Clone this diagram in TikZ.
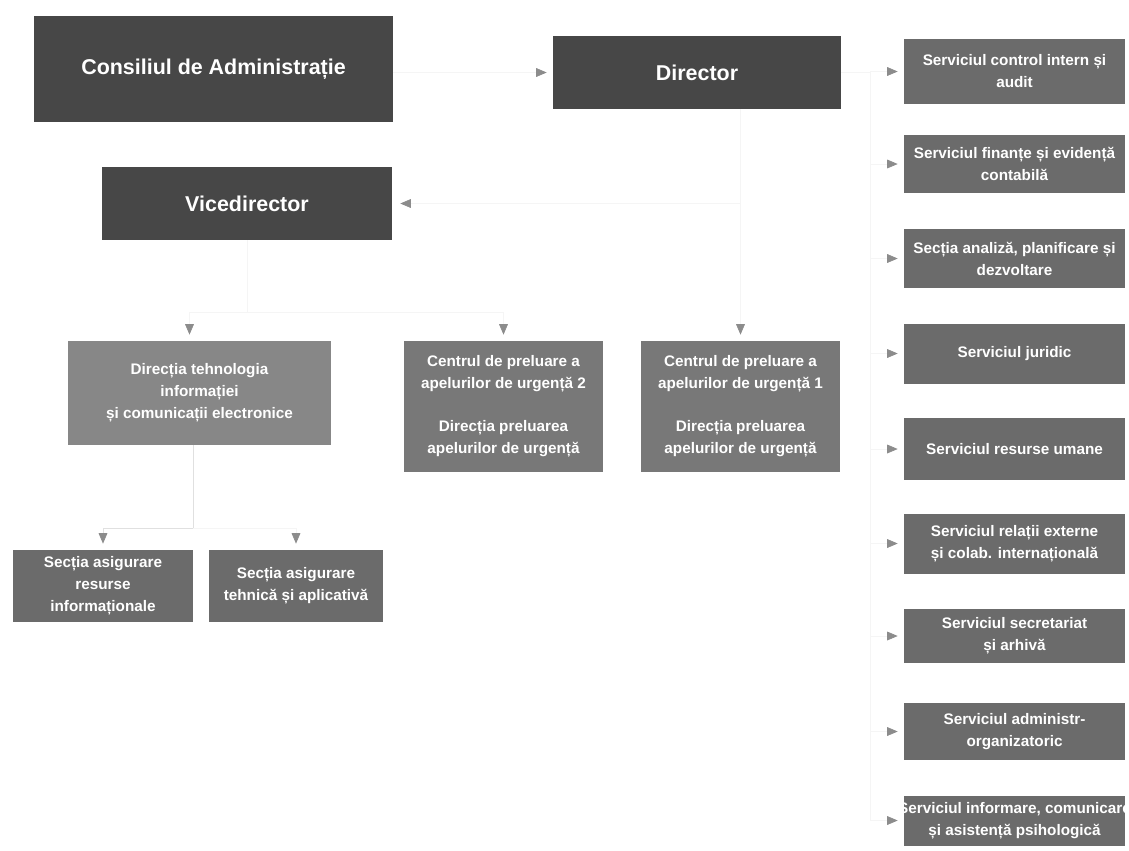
\documentclass[tikz,border=0pt]{standalone}
\usepackage{fontspec}
\setmainfont{Liberation Sans}
\usetikzlibrary{arrows.meta}

\begin{document}
\begin{tikzpicture}[x=0.02cm, y=-0.02cm,
      >={Triangle[length=6pt,width=5pt,color=black!45]},
      head/.style={rectangle,fill=black!72,text=white,inner sep=0pt,
        font=\fontsize{12.2}{14}\selectfont\bfseries},
      unit/.style={rectangle,fill=black!58,text=white,align=center,inner sep=0pt,
        minimum width=4.42cm,minimum height=1.2cm,
        font=\fontsize{8.7}{12.5}\selectfont\bfseries},
      link/.style={draw=black!4,thin,->,shorten >=1.2mm}]
      \useasboundingbox (0,0) rectangle (1129,850);
      % conducere
      \node[head,minimum width=7.18cm,minimum height=2.12cm] at (213.5,69) (cons) {Consiliul de Administrație};
      \node[head,minimum width=5.76cm,minimum height=1.46cm] at (697,72.5) (dir) {Director};
      \node[head,minimum width=5.8cm,minimum height=1.46cm] at (247,203.5) (vice) {Vicedirector};
      % servicii
      \node[unit,minimum height=1.3cm] at (1014.5,71.5) (ctrl) {Serviciul control intern și\\audit};
      \node[unit,minimum height=1.16cm] at (1014.5,164) (fin) {Serviciul finanțe și evidență\\contabilă};
      \node[unit,minimum height=1.18cm] at (1014.5,258.5) (anal) {Secția analiză, planificare și\\dezvoltare};
      \node[unit] at (1014.5,353.5) (jur) {Serviciul juridic};
      \node[unit,minimum height=1.24cm] at (1014.5,449) (hr) {Serviciul resurse umane};
      \node[unit] at (1014.5,543.5) (ext) {Serviciul relații externe\\și colab. internațională};
      \node[unit,minimum height=1.08cm] at (1014.5,636) (sec) {Serviciul secretariat\\și arhivă};
      \node[unit,minimum height=1.14cm] at (1014.5,731.5) (adm) {Serviciul administr-\\organizatoric};
      \node[unit,minimum height=1.0cm] at (1014.5,820.5) (inf) {\makebox[4.2cm]{Serviciul informare, comunicare}\\și asistență psihologică};
      % directii
      \node[unit,fill=black!47,minimum width=5.26cm,minimum height=2.08cm] at (199.5,393) (dit) {Direcția tehnologia\\informației\\și comunicații electronice};
      \node[unit,fill=black!53,minimum width=3.98cm,minimum height=2.62cm] at (503.5,406.5) (cpu2) {Centrul de preluare a\\apelurilor de urgență 2\\[12pt]Direcția preluarea\\apelurilor de urgență};
      \node[unit,fill=black!53,minimum width=3.98cm,minimum height=2.62cm] at (740.5,406.5) (cpu1) {Centrul de preluare a\\apelurilor de urgență 1\\[12pt]Direcția preluarea\\apelurilor de urgență};
      \node[unit,minimum width=3.6cm,minimum height=1.44cm] at (103,586) (sres) {Secția asigurare\\resurse\\informaționale};
      \node[unit,minimum width=3.48cm,minimum height=1.44cm] at (296,586) (steh) {Secția asigurare\\tehnică și aplicativă};
      % legaturi
      \coordinate (rbus) at (870,72.5);
      \coordinate (vbus) at (247,312);
      \coordinate (dbus) at (193,528);
      \draw[link] (cons.east |- dir.west) -- (dir.west);
      \draw[link,shorten >=1.6mm] (dir.south -| cpu1.north) |- (vice.east);
      \draw[link] (dir.south -| cpu1.north) -- (cpu1.north);
      \foreach \s in {ctrl,fin,anal,jur,hr,ext,sec,adm,inf}
        \draw[link] (dir.east) -- (rbus) |- (\s.west);
      \draw[link] (vice.south) -- (vbus) -| ([xshift=-0.2cm]dit.north);
      \draw[link] (vbus) -| (cpu2.north);
      \draw[link,draw=black!12] (dit.south -| dbus) -- (dbus) -| (sres.north);
      \draw[link] (dbus) -| (steh.north);
    \end{tikzpicture}
\end{document}
